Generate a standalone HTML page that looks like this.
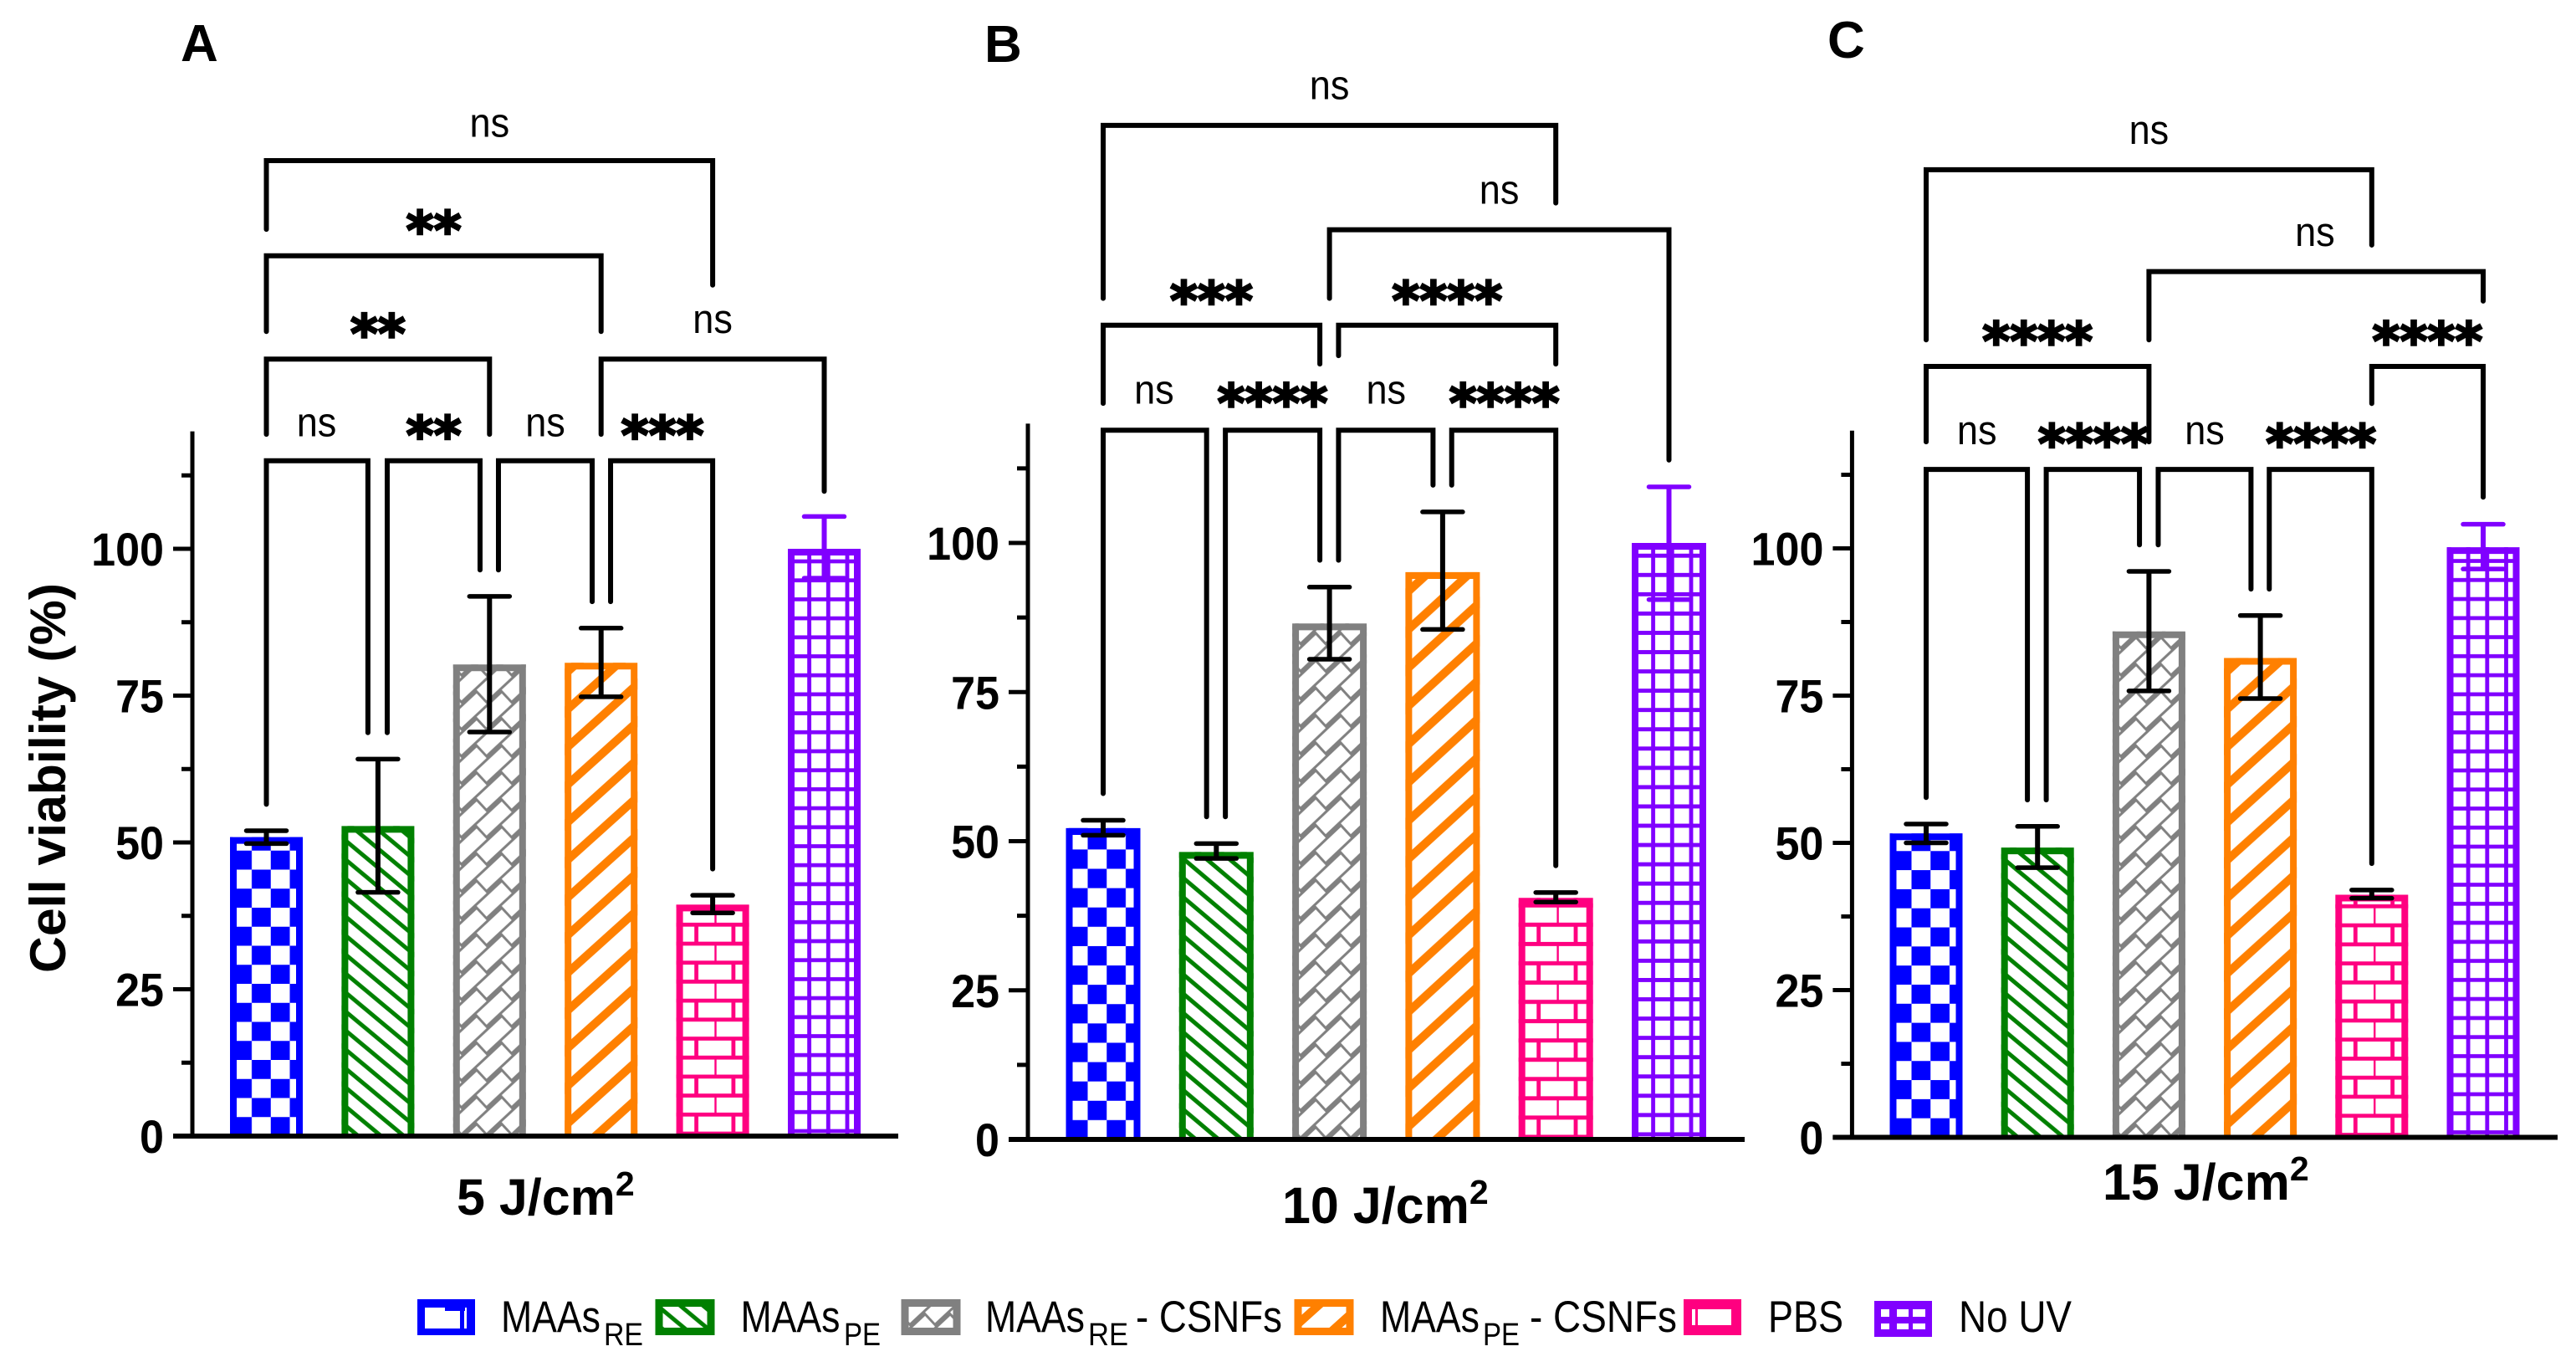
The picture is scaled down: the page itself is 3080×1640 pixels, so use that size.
<!DOCTYPE html>
<html lang="en">
<head>
<meta charset="utf-8">
<title>Cell viability after UV exposure</title>
<style>
html,body{margin:0;padding:0;background:#fff;}
svg{display:block;}
text{font-family:"Liberation Sans",Arial,sans-serif;fill:#000;}
.b{font-weight:bold;}
</style>
</head>
<body>
<svg id="chart" xmlns="http://www.w3.org/2000/svg" width="3080" height="1640" viewBox="0 0 3080 1640">
<defs>
  <pattern id="p-checker" patternUnits="userSpaceOnUse" x="3.25" y="0" width="45.5" height="45.5">
    <rect width="45.5" height="45.5" fill="#fff"/>
    <rect x="0" y="0" width="22.75" height="22.75" fill="#0000ff" transform="translate(22.75,0)"/>
    <rect x="0" y="22.75" width="22.75" height="22.75" fill="#0000ff"/>
  </pattern>
  <pattern id="p-hatch-down" patternUnits="userSpaceOnUse" x="0" y="6" width="27.3" height="22.7">
    <rect width="27.3" height="22.7" fill="#fff"/>
    <path d="M-27.3 -22.7L54.6 45.4M-27.3 0L27.3 45.4M0 -22.7L54.6 22.7" stroke="#008000" stroke-width="5" fill="none"/>
  </pattern>
  <pattern id="p-bricks-diag" patternUnits="userSpaceOnUse" x="4" y="-8" width="30" height="32.3">
    <rect width="30" height="32.3" fill="#808080"/>
    <g id="gray-bricks"></g>
  </pattern>
  <pattern id="p-hatch-up" patternUnits="userSpaceOnUse" x="0" y="-12" width="50" height="45">
    <rect width="50" height="45" fill="#fff"/>
    <path d="M-50 90L100 -45M-50 45L50 -45M0 90L100 0" stroke="#ff8000" stroke-width="10" fill="none"/>
  </pattern>
  <pattern id="p-bricks" patternUnits="userSpaceOnUse" x="1.4" y="-48.4" width="44.3" height="45.4">
    <rect width="44.3" height="45.4" fill="#fff"/>
    <path d="M0 0V22.7M22.6 22.7V45.4M0 0H44.3M0 22.7H44.3M0 45.4H44.3" stroke="#ff0080" stroke-width="4.8" fill="none"/>
  </pattern>
  <pattern id="p-grid" patternUnits="userSpaceOnUse" x="2.9" y="-6" width="22.7" height="22.7">
    <rect width="22.7" height="22.7" fill="#fff"/>
    <path d="M0 0V22.7M0 0H22.7M0 22.7H22.7M22.7 0V22.7" stroke="#8000ff" stroke-width="4.8" fill="none"/>
  </pattern>
</defs>

<text class="b" font-size="62" x="216" y="73">A</text>
<text class="b" font-size="62" x="1177" y="74">B</text>
<text class="b" font-size="62" x="2185" y="69">C</text>

<text class="b" font-size="60" text-anchor="middle" textLength="466" lengthAdjust="spacingAndGlyphs" transform="translate(78,930) rotate(-90)">Cell viability (%)</text>

<text class="b" font-size="61" x="546" y="1452">5 J/cm<tspan font-size="41" dy="-23">2</tspan></text>
<text class="b" font-size="61" x="1533" y="1462">10 J/cm<tspan font-size="41" dy="-23">2</tspan></text>
<text class="b" font-size="61" x="2514" y="1434">15 J/cm<tspan font-size="41" dy="-23">2</tspan></text>

<g id="panels"></g>

<g>
  <g>
    <rect x="499" y="1553" width="69" height="43" fill="#0000ff"/>
    <rect x="508" y="1563" width="50" height="25" fill="#fff"/>
    <rect x="532" y="1563" width="24" height="4" fill="#0000ff"/>
    <rect x="550" y="1567" width="5" height="21" fill="#0000ff"/>
    <text x="599" y="1592" font-size="53" textLength="119" lengthAdjust="spacingAndGlyphs">MAAs</text>
    <text x="722" y="1608" font-size="38" textLength="47" lengthAdjust="spacingAndGlyphs">RE</text>
  </g>
  <g>
    <g transform="translate(784,1553)"><rect x="0" y="0" width="70" height="43" fill="url(#p-hatch-down)"/><rect x="4" y="4.500" width="62" height="34" fill="none" stroke="#008000" stroke-width="9"/></g>
    <text x="885.500" y="1592" font-size="53" textLength="119" lengthAdjust="spacingAndGlyphs">MAAs</text>
    <text x="1009" y="1608" font-size="38" textLength="44" lengthAdjust="spacingAndGlyphs">PE</text>
  </g>
  <g>
    <g transform="translate(1078,1553)"><rect x="0" y="0" width="70" height="43" fill="url(#p-bricks-diag)"/><rect x="4" y="4.500" width="62" height="34" fill="none" stroke="#808080" stroke-width="9"/></g>
    <text x="1178" y="1592" font-size="53" textLength="119" lengthAdjust="spacingAndGlyphs">MAAs</text>
    <text x="1301" y="1608" font-size="38" textLength="48" lengthAdjust="spacingAndGlyphs">RE</text>
    <text x="1358" y="1592" font-size="53" textLength="175" lengthAdjust="spacingAndGlyphs">- CSNFs</text>
  </g>
  <g>
    <g transform="translate(1548,1553)"><rect x="0" y="0" width="70" height="43" fill="url(#p-hatch-up)"/><rect x="4" y="4.500" width="62" height="34" fill="none" stroke="#ff8000" stroke-width="9"/></g>
    <text x="1650" y="1592" font-size="53" textLength="119" lengthAdjust="spacingAndGlyphs">MAAs</text>
    <text x="1773" y="1608" font-size="38" textLength="44" lengthAdjust="spacingAndGlyphs">PE</text>
    <text x="1829" y="1592" font-size="53" textLength="176" lengthAdjust="spacingAndGlyphs">- CSNFs</text>
  </g>
  <g>
    <rect x="2013" y="1553" width="69" height="43" fill="#ff0080"/>
    <rect x="2023" y="1565" width="47" height="19" fill="#fff"/>
    <rect x="2027" y="1565" width="3" height="19" fill="#ff0080"/>
    <text x="2114" y="1592" font-size="53" textLength="90" lengthAdjust="spacingAndGlyphs">PBS</text>
  </g>
  <g>
    <rect x="2241" y="1555" width="69" height="43" fill="#8000ff"/>
    <path d="M2249 1565h10v9h-10zM2268 1565h14v9h-14zM2287 1565h15v9h-15zM2249 1582h10v7h-10zM2268 1582h14v7h-14zM2287 1582h15v7h-15z" fill="#fff"/>
    <text x="2342" y="1592" font-size="53" textLength="135" lengthAdjust="spacingAndGlyphs">No UV</text>
  </g>
</g>
</svg>

<script>
// ---- data ----
const categories = ['maas-re', 'maas-pe', 'maas-re-csnfs', 'maas-pe-csnfs', 'pbs', 'no-uv'];

const valuesA = [50.9, 52.8, 80.3, 80.6, 39.4, 100];
const errHighA = [52, 64.2, 91.9, 86.5, 41, 105.5];
const errLowA = [49.8, 41.5, 68.8, 74.8, 38, 95];

const valuesB = [52.2, 48.2, 86.5, 95.1, 40.5, 100];
const errHighB = [53.5, 49.6, 92.6, 105.2, 41.4, 109.4];
const errLowB = [51, 47.1, 80.5, 85.5, 39.8, 90.5];

const valuesC = [51.6, 49.2, 85.9, 81.4, 41.2, 100.2];
const errHighC = [53.2, 52.8, 96.1, 88.6, 42, 104.1];
const errLowC = [50, 45.8, 75.8, 74.5, 40.6, 96.5];

const majorTicks = [0, 25, 50, 75, 100];
const tickLabels = ['0', '25', '50', '75', '100'];
const minorTicks = [12.5, 37.5, 62.5, 87.5, 112.5];

// Significance brackets, in data units:
// [from category, to category, top level, from-foot level, to-foot level, label, label category, label level]
// A null foot level means "sits just above that category's error bar".
const bracketsA = [
  [0, 4, 166.1, 154.4, 144.9, 'ns', 2, 172],
  [0, 3, 149.9, 137, 137, '**', 1.5, 155.6],
  [0, 2, 132.3, 119.5, 119.5, '**', 1, 138],
  [3, 5, 132.3, 119.5, 109.8, 'ns', 4, 138.6],
  [0, 0.91, 115, null, null, 'ns', 0.45, 121],
  [1.083, 1.915, 115, null, null, '**', 1.5, 120.7],
  [2.08, 2.92, 115, null, null, 'ns', 2.5, 121],
  [3.085, 4, 115, null, null, '***', 3.55, 120.7]
];
const bracketsB = [
  [0, 4, 170, 141, 157, 'ns', 2, 176.2],
  [2, 5, 152.5, 141, 113.9, 'ns', 3.5, 158.7],
  [0, 1.915, 136.5, 123.4, 130, '***', 0.957, 142],
  [2.08, 4, 136.5, 131.4, 130, '****', 3.04, 142],
  [0, 0.914, 118.9, null, null, 'ns', 0.45, 125.2],
  [1.08, 1.915, 118.9, null, null, '****', 1.497, 124.8],
  [2.08, 2.915, 118.9, null, null, 'ns', 2.5, 125.2],
  [3.08, 4, 118.9, null, null, '****', 3.545, 124.8]
];
const bracketsC = [
  [0, 4, 164.3, 135.4, 151.5, 'ns', 2, 170.5],
  [2, 5, 147, 135.4, 142, 'ns', 3.49, 153.2],
  [0, 2, 130.9, 118.1, 118.1, '****', 1, 136.6],
  [4, 5, 130.9, 124.6, 108.7, '****', 4.5, 136.6],
  [0, 0.909, 113.4, null, null, 'ns', 0.456, 119.5],
  [1.078, 1.915, 113.4, null, null, '****', 1.5, 119.2],
  [2.083, 2.916, 113.4, null, null, 'ns', 2.5, 119.5],
  [3.08, 4, 113.4, null, null, '****', 3.545, 119.2]
];

// ---- styling and layout ----
const NS = 'http://www.w3.org/2000/svg';
const barColors = ['#0000ff', '#008000', '#808080', '#ff8000', '#ff0080', '#8000ff'];
const barFills = ['p-checker', 'p-hatch-down', 'p-bricks-diag', 'p-hatch-up', 'p-bricks', 'p-grid'];
const errColors = ['#000', '#000', '#000', '#000', '#000', '#8000ff'];
const AXIS_MAX = 120;
const FOOT_GAP = 4.5;

function make(tag, parent) {
  const node = document.createElementNS(NS, tag);
  parent.appendChild(node);
  return node;
}
function line(parent, x1, y1, x2, y2, color, width) {
  const l = make('line', parent);
  l.setAttribute('x1', x1);
  l.setAttribute('y1', y1);
  l.setAttribute('x2', x2);
  l.setAttribute('y2', y2);
  l.setAttribute('stroke', color);
  l.setAttribute('stroke-width', width);
  return l;
}

// bricks of the gray pattern
(function () {
  const holder = document.getElementById('gray-bricks');
  const W = 30, H = 32.3, hl = 20.5, ht = 8.7, a = 43 * Math.PI / 180;
  const ux = Math.cos(a), uy = -Math.sin(a), vx = Math.sin(a), vy = Math.cos(a);
  for (let i = -1; i <= 1; i++) {
    for (let j = -1; j <= 1; j++) {
      const cx = 15 + i * W, cy = 16 + j * H;
      const corners = [[-hl, -ht], [hl, -ht], [hl, ht], [-hl, ht]].map(function (c) {
        return (cx + c[0] * ux + c[1] * vx).toFixed(2) + ',' + (cy + c[0] * uy + c[1] * vy).toFixed(2);
      });
      const brick = make('polygon', holder);
      brick.setAttribute('points', corners.join(' '));
      brick.setAttribute('fill', '#fff');
    }
  }
})();

function drawPanel(root, key, geo, values, errHigh, errLow, brackets) {
  const xScale = function (c) { return geo.cat0 + c * geo.pitch; };
  const yScale = function (v) { return geo.zero - v * geo.unit; };

  const panel = make('g', root);
  
  

  // bars
  values.forEach(function (v, i) {
    const left = xScale(i) - geo.barW / 2;
    const barGroup = make('g', panel);
    
    
    barGroup.setAttribute('transform', 'translate(' + left + ',' + geo.zero + ') scale(1,' + (geo.unit / 7.02) + ')');
    const fill = make('rect', barGroup);
    
    
    fill.setAttribute('x', 0);
    fill.setAttribute('y', -v * 7.02);
    fill.setAttribute('width', geo.barW);
    fill.setAttribute('height', v * 7.02);
    fill.setAttribute('fill', 'url(#' + barFills[i] + ')');
    const border = make('path', barGroup);
    
    
    border.setAttribute('d', 'M4 0V' + (-v * 7.02 + 4) + 'H' + (geo.barW - 4) + 'V0');
    border.setAttribute('fill', 'none');
    border.setAttribute('stroke', barColors[i]);
    border.setAttribute('stroke-width', 8);
  });

  // axes
  const axes = make('g', panel);
  
  
  const yAxis = line(axes, geo.axisX, yScale(AXIS_MAX), geo.axisX, geo.zero + 2.5, '#000', 5);
  
  
  const xAxis = line(axes, geo.axisX - 23, geo.zero, geo.axisRight, geo.zero, '#000', 6);
  
  
  majorTicks.forEach(function (t, i) {
    const y = yScale(t);
    const tick = line(axes, geo.axisX - 23, y, geo.axisX, y, '#000', 5);
    
    
    const label = make('text', axes);
    
    
    label.setAttribute('class', 'b');
    label.setAttribute('font-size', 56);
    label.setAttribute('text-anchor', 'end');
    label.setAttribute('transform', 'translate(' + (geo.axisX - 34) + ',' + (y + 20) + ') scale(.93,1)');
    label.textContent = tickLabels[i];
  });
  minorTicks.forEach(function (t) {
    const y = yScale(t);
    const tick = line(axes, geo.axisX - 13, y, geo.axisX, y, '#000', 5);
    
    
  });

  // error bars
  values.forEach(function (v, i) {
    const x = xScale(i);
    const err = make('g', panel);
    
    
    const hi = yScale(errHigh[i]), lo = yScale(errLow[i]);
    line(err, x, hi, x, lo, errColors[i], 6);
    const capA = line(err, x - 24, hi, x + 24, hi, errColors[i], 5.5);
    capA.setAttribute('stroke-linecap', 'round');
    const capB = line(err, x - 24, lo, x + 24, lo, errColors[i], 5.5);
    capB.setAttribute('stroke-linecap', 'round');
  });

  // significance brackets
  brackets.forEach(function (b, n) {
    const x1 = xScale(b[0]), x2 = xScale(b[1]), top = yScale(b[2]);
    const foot1 = b[3] === null ? errHigh[Math.round(b[0])] + FOOT_GAP : b[3];
    const foot2 = b[4] === null ? errHigh[Math.round(b[1])] + FOOT_GAP : b[4];
    const group = make('g', panel);
    
    
    const path = make('path', group);
    path.setAttribute('d', 'M' + x1 + ' ' + yScale(foot1) + 'V' + top + 'H' + x2 + 'V' + yScale(foot2));
    path.setAttribute('fill', 'none');
    path.setAttribute('stroke', '#000');
    path.setAttribute('stroke-width', 6);
    path.setAttribute('stroke-linecap', 'round');
    path.setAttribute('stroke-linejoin', 'miter');
    const label = make('text', group);
    
    
    label.setAttribute('text-anchor', 'middle');
    const lx = xScale(b[6]), ly = yScale(b[7]);
    if (b[5] === 'ns') {
      label.setAttribute('font-size', 49);
      label.setAttribute('transform', 'translate(' + lx + ',' + (ly + 13) + ') scale(.92,1)');
    } else {
      label.setAttribute('font-size', 63);
      label.setAttribute('font-weight', 'bold');
      label.setAttribute('stroke', '#000');
      label.setAttribute('stroke-width', 2.5);
      label.setAttribute('style', 'font-family:"DejaVu Sans",sans-serif');
      label.setAttribute('transform', 'translate(' + lx + ',' + (ly + 32) + ')');
    }
    label.textContent = b[5];
  });
}

const rootGroup = document.getElementById('panels');
drawPanel(rootGroup, 'a', { axisX: 230, axisRight: 1074, zero: 1358, unit: 7.02, cat0: 318.5, pitch: 133.4, barW: 87 }, valuesA, errHighA, errLowA, bracketsA);
drawPanel(rootGroup, 'b', { axisX: 1229, axisRight: 2086, zero: 1362, unit: 7.13, cat0: 1319, pitch: 135.3, barW: 89 }, valuesB, errHighB, errLowB, bracketsB);
drawPanel(rootGroup, 'c', { axisX: 2214.4, axisRight: 3058, zero: 1359.5, unit: 7.04, cat0: 2303, pitch: 133.2, barW: 87 }, valuesC, errHighC, errLowC, bracketsC);
</script>
</body>
</html>
